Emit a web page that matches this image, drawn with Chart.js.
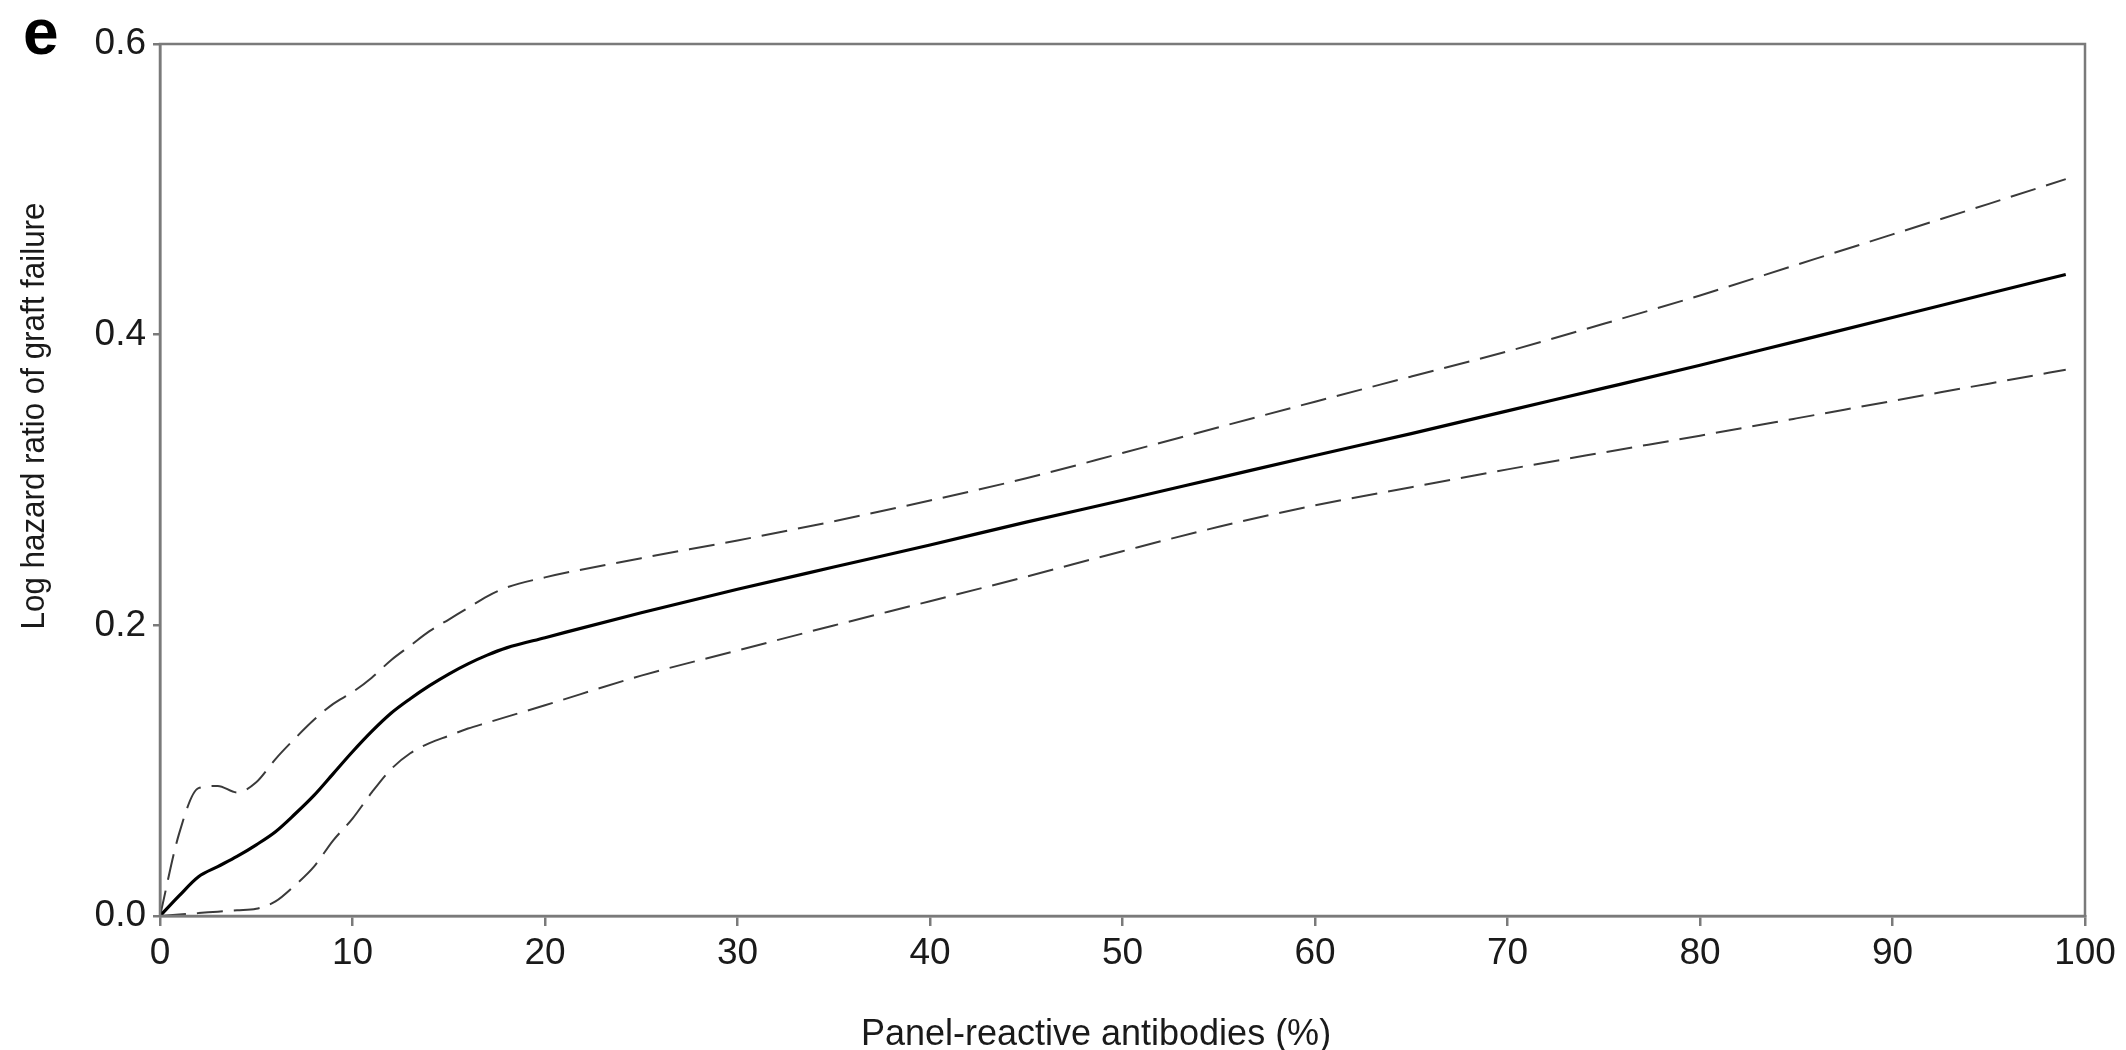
<!DOCTYPE html>
<html>
<head>
<meta charset="utf-8">
<script src="https://cdn.jsdelivr.net/npm/chart.js@4.4.1/dist/chart.umd.min.js"></script>
<style>
html, body { margin: 0; padding: 0; background: #fff; }
</style>
</head>
<body>
<canvas id="chart" width="2126" height="1050"></canvas>
<script>
// Panel-reactive antibodies (%) on x
const pra = [0, 1, 2, 3, 4, 5, 6, 7, 8, 9, 10, 11, 12, 13, 14, 15, 16, 17, 18, 20,
  25, 30, 35, 40, 45, 50, 55, 60, 65, 70, 75, 80, 85, 90, 95, 99];

// log hazard ratio (solid) and its confidence band (dashed)
const logHR = [0, 0.014, 0.027, 0.034, 0.041, 0.049, 0.058, 0.070, 0.083, 0.098, 0.113,
  0.127, 0.1395, 0.1495, 0.1585, 0.1665, 0.1735, 0.1795, 0.1845, 0.1915,
  0.2087, 0.2248, 0.2401, 0.2553, 0.271, 0.2861, 0.3015, 0.3169, 0.3319, 0.3476,
  0.3632, 0.379, 0.3954, 0.4118, 0.4283, 0.4414];
const upperCI = [0, 0.057, 0.088, 0.0895, 0.085, 0.092, 0.108, 0.122, 0.135, 0.146, 0.154,
  0.164, 0.176, 0.186, 0.196, 0.204, 0.212, 0.220, 0.226, 0.233,
  0.2462, 0.2584, 0.2716, 0.2859, 0.3012, 0.3186, 0.3363, 0.3539, 0.3712, 0.3885,
  0.4075, 0.427, 0.448, 0.469, 0.490, 0.507];
const lowerCI = [0, 0.001, 0.002, 0.003, 0.004, 0.005, 0.010, 0.021, 0.034, 0.052, 0.067,
  0.085, 0.101, 0.112, 0.119, 0.124, 0.129, 0.133, 0.137, 0.145,
  0.1654, 0.1827, 0.1999, 0.2166, 0.2335, 0.251, 0.2678, 0.2826, 0.295, 0.3073,
  0.319, 0.3305, 0.3424, 0.3544, 0.3663, 0.3759];

const xTicks = [0, 10, 20, 30, 40, 50, 60, 70, 80, 90, 100];
const yTickLabels = ['0.0', '0.2', '0.4', '0.6'];

const xTitle = 'Panel-reactive antibodies (%)';
const yTitle = 'Log hazard ratio of graft failure';
const panelLetter = 'e';

const axisColor = '#7a7a7a';
const textColor = '#1a1a1a';
const fontFamily = '"Liberation Sans", Arial, sans-serif';

const pts = (ys) => pra.map((x, i) => ({ x: x, y: ys[i] }));

// box round the plot plus the free texts
const frameAndText = {
  id: 'frameAndText',
  afterDraw(chart) {
    const ctx = chart.ctx;
    const a = chart.chartArea;
    ctx.save();
    ctx.strokeStyle = axisColor;
    ctx.lineWidth = 2.5;
    ctx.strokeRect(a.left, a.top, a.right - a.left, a.bottom - a.top);

    ctx.fillStyle = '#000';
    ctx.font = 'bold 64px ' + fontFamily;
    ctx.textAlign = 'left';
    ctx.textBaseline = 'alphabetic';
    ctx.fillText(panelLetter, 23, 54);

    ctx.fillStyle = textColor;
    ctx.font = '36px ' + fontFamily;
    ctx.textAlign = 'center';
    ctx.fillText(xTitle, 1096, 1045);

    ctx.translate(44, 416);
    ctx.rotate(-Math.PI / 2);
    ctx.scale(0.95, 1);
    ctx.font = '33px ' + fontFamily;
    ctx.fillText(yTitle, 0, 0);
    ctx.restore();
  }
};

const ctx = document.getElementById('chart').getContext('2d');
const chart = new Chart(ctx, {
  type: 'line',
  data: {
    datasets: [{
      label: 'Log hazard ratio',
      data: pts(logHR),
      borderColor: '#000',
      borderWidth: 3.2,
      pointRadius: 0,
      cubicInterpolationMode: 'monotone'
    }, {
      label: 'Upper 95% CI',
      data: pts(upperCI),
      borderColor: '#3a3a3a',
      borderWidth: 2,
      borderDash: [26, 11],
      pointRadius: 0,
      cubicInterpolationMode: 'monotone'
    }, {
      label: 'Lower 95% CI',
      data: pts(lowerCI),
      borderColor: '#3a3a3a',
      borderWidth: 2,
      borderDash: [26, 11],
      pointRadius: 0,
      cubicInterpolationMode: 'monotone'
    }]
  },
  options: {
    responsive: false,
    animation: false,
    layout: { padding: { left: 0, right: 41, top: 44, bottom: 0 } },
    plugins: { legend: { display: false }, tooltip: { enabled: false } },
    scales: {
      x: {
        type: 'linear',
        min: 0,
        max: 100,
        afterBuildTicks: (s) => { s.ticks = xTicks.map(v => ({ value: v })); },
        afterFit: (s) => { s.height = 134; },
        grid: { drawOnChartArea: false, drawTicks: true, tickLength: 10, color: axisColor, lineWidth: 2.5 },
        border: { color: axisColor, width: 2.5 },
        ticks: { color: textColor, padding: 6, maxRotation: 0, font: { size: 37, family: fontFamily } }
      },
      y: {
        min: 0,
        max: 0.6,
        afterBuildTicks: (s) => { s.ticks = yTickLabels.map(t => ({ value: parseFloat(t) })); },
        afterFit: (s) => { s.width = 160; },
        grid: { drawOnChartArea: false, drawTicks: true, tickLength: 7, color: axisColor, lineWidth: 2.5 },
        border: { color: axisColor, width: 2.5 },
        ticks: {
          color: textColor,
          padding: 7,
          font: { size: 37, family: fontFamily },
          callback: (v, i) => yTickLabels[i]
        }
      }
    }
  },
  plugins: [frameAndText]
});
</script>
</body>
</html>
